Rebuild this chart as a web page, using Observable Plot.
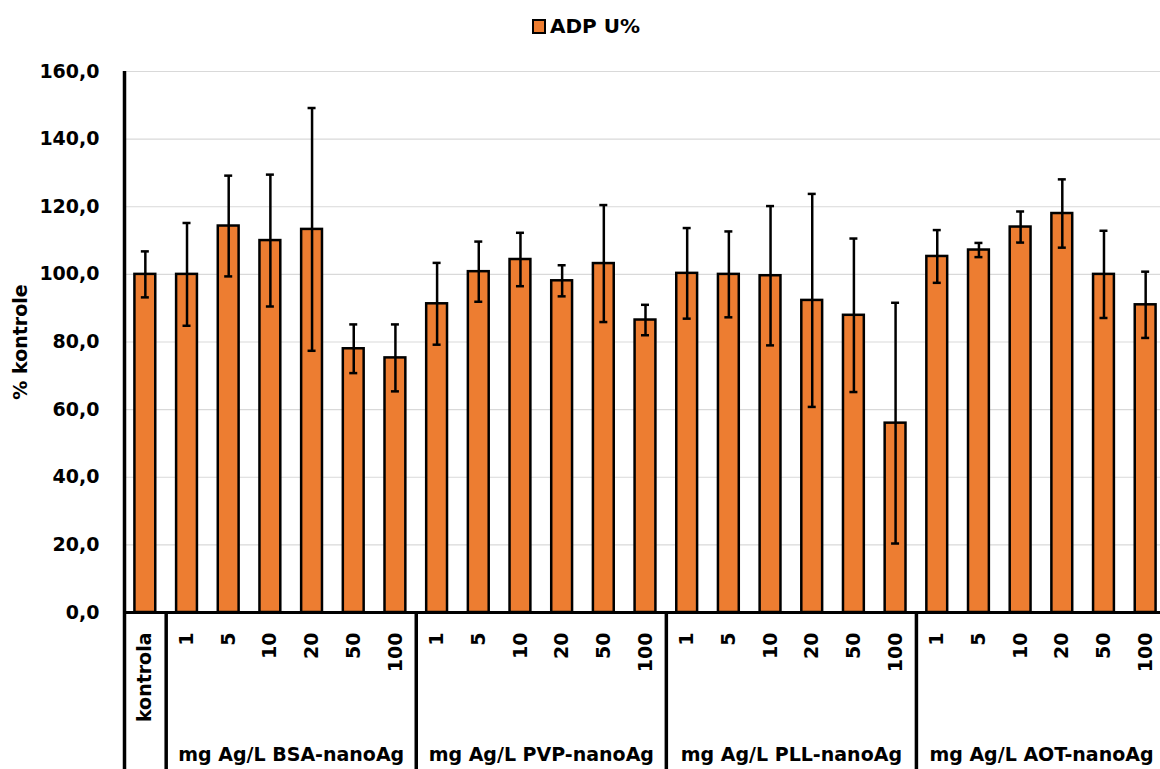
<!DOCTYPE html>
<html>
<head>
<meta charset="utf-8">
<script src="https://cdn.jsdelivr.net/npm/d3@7"></script>
<script src="https://cdn.jsdelivr.net/npm/@observablehq/plot@0.6"></script>
<style>
  html, body { margin: 0; padding: 0; background: #fff; overflow: hidden; }
  #wrap { position: relative; width: 1160px; height: 769px; }
  #legend { position: absolute; left: 532px; top: 14px; display: flex; align-items: center;
            font-family: "DejaVu Sans", sans-serif; font-weight: bold; font-size: 20px; color: #000; }
  #legend .sw { width: 10px; height: 11px; background: #ED7D31; border: 2px solid #000; margin-right: 4px; }
  #chart { position: absolute; left: 0; top: 0; }
</style>
</head>
<body>
<div id="wrap">
  <div id="chart"></div>
  <div id="legend"><span class="sw"></span><span>ADP U%</span></div>
</div>
<script>
// ---- data ----
const groups = ["BSA", "PVP", "PLL", "AOT"];
const groupLabels = ["mg Ag/L BSA-nanoAg", "mg Ag/L PVP-nanoAg", "mg Ag/L PLL-nanoAg", "mg Ag/L AOT-nanoAg"];
const concentrations = ["1", "5", "10", "20", "50", "100"];
const controlLabel = "kontrola";
const controlMean = 100.0;
const controlErr = 6.8;
const bsaMean = [100.0, 114.3, 110.0, 113.3, 78.0, 75.3];
const bsaErr  = [15.2, 14.9, 19.5, 35.9, 7.2, 9.9];
const pvpMean = [91.3, 100.8, 104.4, 98.1, 103.2, 86.5];
const pvpErr  = [12.1, 8.9, 7.9, 4.6, 17.3, 4.5];
const pllMean = [100.3, 100.0, 99.6, 92.3, 87.9, 56.0];
const pllErr  = [13.4, 12.7, 20.6, 31.5, 22.7, 35.6];
const aotMean = [105.3, 107.2, 114.0, 118.0, 100.0, 91.0];
const aotErr  = [7.8, 2.1, 4.6, 10.1, 12.9, 9.8];
const yTicks = [0, 20, 40, 60, 80, 100, 120, 140, 160];
const seriesName = "ADP U%";
const yLabel = "% kontrole";

// ---- table ----
const means = [bsaMean, pvpMean, pllMean, aotMean];
const errs = [bsaErr, pvpErr, pllErr, aotErr];
const rows = [{key: controlLabel, label: controlLabel, mean: controlMean, err: controlErr}];
groups.forEach((g, gi) => concentrations.forEach((c, ci) => {
  rows.push({key: g + " " + c, label: c, mean: means[gi][ci], err: errs[gi][ci]});
}));
const keys = rows.map(d => d.key);
const labelOf = new Map(rows.map(d => [d.key, d.label]));
const groupStarts = groups.map(g => g + " " + concentrations[0]);
const groupMids = groups.map(g => g + " " + concentrations[3]);

// ---- layout ----
const W = 1160, H = 769, mL = 124, mR = -6, mT = 71, mB = 157;
const step = (W - mL - mR) / keys.length;
const frameH = H - mT - mB;
const font = "DejaVu Sans, sans-serif";

const chart = Plot.plot({
  width: W, height: H,
  marginLeft: mL, marginRight: mR, marginTop: mT, marginBottom: mB,
  style: {fontFamily: font, fontSize: "19px", fontWeight: "bold", color: "#000", background: "transparent", overflow: "visible"},
  x: {type: "band", domain: keys, paddingInner: 0.5, paddingOuter: 0.25, round: false, axis: null},
  y: {domain: [0, 160], axis: null},
  marks: [
    Plot.ruleY(yTicks.filter(t => t > 0), {stroke: "#d9d9d9", strokeWidth: 1.2}),
    Plot.barY(rows, {x: "key", y: "mean", fill: "#ED7D31", stroke: "#000", strokeWidth: 2.5}),
    Plot.ruleX(rows, {x: "key", y1: d => d.mean - d.err, y2: d => d.mean + d.err, stroke: "#000", strokeWidth: 2.5}),
    Plot.tickY(rows, {x: "key", y: d => d.mean - d.err, stroke: "#000", strokeWidth: 2.5, inset: (step * 0.5 - 8) / 2}),
    Plot.tickY(rows, {x: "key", y: d => d.mean + d.err, stroke: "#000", strokeWidth: 2.5, inset: (step * 0.5 - 8) / 2}),
    Plot.ruleY([0], {stroke: "#000", strokeWidth: 3}),
    // left axis line (extends through the category table)
    Plot.ruleX([controlLabel], {x: d => d, dx: -step / 2, stroke: "#000", strokeWidth: 3.5, insetBottom: -mB}),
    // group separators in the category table
    Plot.ruleX(groupStarts, {x: d => d, dx: -step / 2, stroke: "#000", strokeWidth: 3.5, insetTop: frameH, insetBottom: -mB}),
    Plot.axisY(yTicks, {tickSize: 0, tickPadding: 25, label: null, tickFormat: d => d.toFixed(1).replace(".", ","), fontSize: 19}),
    Plot.axisX({tickSize: 0, tickPadding: 20, tickRotate: -90, label: null, tickFormat: k => labelOf.get(k), fontSize: 19}),
    Plot.text(groupLabels, {x: (d, i) => groupMids[i], text: d => d, dx: -step / 2, frameAnchor: "bottom", dy: 142, lineAnchor: "middle", textAnchor: "middle", fontSize: 19}),
    Plot.text([yLabel], {frameAnchor: "left", text: d => d, rotate: -90, dx: -104, lineAnchor: "middle", textAnchor: "middle", fontSize: 19})
  ]
});
document.getElementById("chart").appendChild(chart);
document.querySelector("#legend span:last-child").textContent = seriesName;
</script>
</body>
</html>
